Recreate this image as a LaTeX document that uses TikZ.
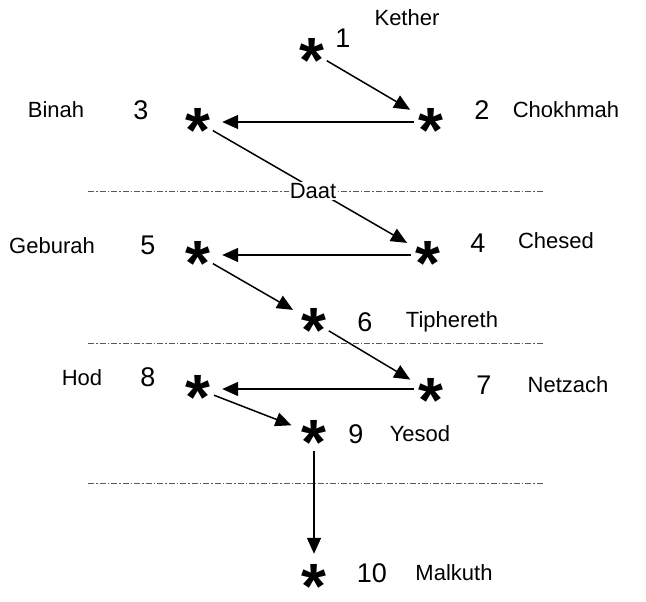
\documentclass[tikz,border=0pt]{standalone}
\usepackage{fontspec}
\setmainfont{Liberation Sans}
\usetikzlibrary{arrows.meta}
\tikzset{
  sefira/.style={circle, inner sep=0pt, minimum size=30pt, text height=0pt, text depth=0pt,
    font=\fontsize{64}{64}\selectfont\bfseries},
  num/.style={inner sep=0pt, font=\fontsize{27}{27}\selectfont},
  sname/.style={inner sep=0pt, font=\fontsize{22}{22}\selectfont},
  arr/.style={line width=1.5pt, -{Triangle[length=16pt,width=14pt]}, shorten >=9pt, shorten <=2pt},
  sepline/.style={line width=0.8pt, gray!70!black, dash pattern=on 6pt off 2pt on 1.5pt off 2pt}
}
\newcommand{\sefstar}{\raisebox{-0.47em}{*}}
\begin{document}
\begin{tikzpicture}[x=1pt,y=-1pt]
\useasboundingbox (0,0) rectangle (646,602);
% stars
\node[sefira] (s1) at (312,52) {\sefstar};
\node[sefira] (s2) at (431,122) {\sefstar};
\node[sefira] (s3) at (198,122) {\sefstar};
\node[sefira] (s4) at (428,255) {\sefstar};
\node[sefira] (s5) at (198,255) {\sefstar};
\node[sefira] (s6) at (314,322) {\sefstar};
\node[sefira] (s7) at (431,392) {\sefstar};
\node[sefira] (s8) at (198,389) {\sefstar};
\node[sefira] (s9) at (314,434) {\sefstar};
\node[sefira] (s10) at (314,578) {\sefstar};
% numbers
\node[num] (n1) at (343,38) {1};
\node[num] (n2) at (482,110) {2};
\node[num] (n3) at (141,110) {3};
\node[num] (n4) at (478,243) {4};
\node[num] (n5) at (148,245) {5};
\node[num] (n6) at (365,322) {6};
\node[num] (n7) at (484,385) {7};
\node[num] (n8) at (148,377) {8};
\node[num] (n9) at (356,434) {9};
\node[num] (n10) at (372,573) {10};
% names
\node[sname] (k) at (407,18) {Kether};
\node[sname] (ch) at (566,110) {Chokhmah};
\node[sname] (bi) at (56,110) {Binah};
\node[sname] (che) at (556,241) {Chesed};
\node[sname] (ge) at (52,246) {Geburah};
\node[sname] (ti) at (452,322) {Tiphereth};
\node[sname] (ne) at (568,385) {Netzach};
\node[sname] (ho) at (82,378) {Hod};
\node[sname] (ye) at (420,434) {Yesod};
\node[sname] (ma) at (454,573) {Malkuth};
% separators
\coordinate (l1a) at (88,191); \coordinate (l1b) at (543,191);
\coordinate (l2a) at (88,343); \coordinate (l2b) at (543,343);
\coordinate (l3a) at (88,483); \coordinate (l3b) at (543,483);
\draw[sepline] (l1a) -- (l1b);
\draw[sepline] (l2a) -- (l2b);
\draw[sepline] (l3a) -- (l3b);
% arrows
\draw[arr] (s1) -- (s2);
\draw[arr] (s2) -- (s3);
\draw[arr] (s3) -- (s4);
\node[sname, fill=white, inner sep=1pt] (daat) at (313,191) {Daat};
\draw[arr] (s4) -- (s5);
\draw[arr] (s5) -- (s6);
\draw[arr] (s6) -- (s7);
\draw[arr] (s7.west |- s8) -- (s8);
\draw[arr] (s8) -- (s9);
\draw[arr] (s9) -- (s10);
\end{tikzpicture}
\end{document}
